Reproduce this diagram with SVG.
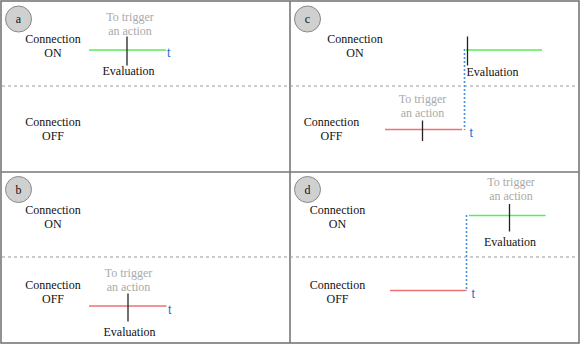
<svg xmlns="http://www.w3.org/2000/svg" width="581" height="345" viewBox="0 0 581 345">
<style>
text{font-family:"Liberation Serif","Times New Roman",serif;font-size:12px;fill:#111;text-anchor:middle}
.g{fill:#aaaaaa}
.t{fill:#1a6fd6;font-family:"Liberation Sans",Arial,sans-serif;text-anchor:start}
.frame{fill:none;stroke:#777;stroke-width:1.6}
.sep{stroke:#999;stroke-width:1;stroke-dasharray:3,3}
.circ{fill:#d0d0d0;stroke:#888;stroke-width:1}
.on{stroke:#55ee55;stroke-width:1.6}
.off{stroke:#f07070;stroke-width:1.6}
.tick{stroke:#222;stroke-width:1.3}
.jump{stroke:#4a8fe0;stroke-width:1.6;stroke-dasharray:2,2}
</style>
<rect x="0" y="0" width="581" height="345" fill="#fff"/>
<g id="frame">
<rect class="frame" x="1" y="1" width="578" height="342"/>
<line class="frame" x1="290" y1="1" x2="290" y2="343"/>
<line class="frame" x1="1" y1="172" x2="579" y2="172"/>
<line class="sep" x1="2" y1="86" x2="578" y2="86"/>
<line class="sep" x1="2" y1="257" x2="578" y2="257"/>
</g>
<g id="panel-a">
<circle class="circ" cx="18.5" cy="19" r="13"/>
<text x="18.5" y="23">a</text>
<text x="53" y="42.5">Connection</text>
<text x="53" y="56.5">ON</text>
<text x="53" y="126">Connection</text>
<text x="53" y="140">OFF</text>
<text class="g" x="130" y="20.5">To trigger</text>
<text class="g" x="130" y="34.5">an action</text>
<line class="on" x1="89" y1="50" x2="166" y2="50"/>
<line class="tick" x1="127" y1="36.5" x2="127" y2="65.5"/>
<text class="t" x="167" y="57">t</text>
<text x="128.5" y="74.5">Evaluation</text>
</g>
<g id="panel-c">
<circle class="circ" cx="307.5" cy="19" r="13"/>
<text x="307.5" y="23">c</text>
<text x="355" y="42.5">Connection</text>
<text x="355" y="56.5">ON</text>
<text x="331.5" y="126">Connection</text>
<text x="331.5" y="140">OFF</text>
<text class="g" x="422.5" y="102.5">To trigger</text>
<text class="g" x="422.5" y="116.5">an action</text>
<line class="off" x1="385" y1="129.5" x2="462" y2="129.5"/>
<line class="tick" x1="422.5" y1="120.5" x2="422.5" y2="141"/>
<line class="jump" x1="464.5" y1="49" x2="464.5" y2="130"/>
<line class="on" x1="466" y1="50" x2="542" y2="50"/>
<line class="tick" x1="467.5" y1="36.5" x2="467.5" y2="65.5"/>
<text x="492.5" y="76">Evaluation</text>
<text class="t" x="469.5" y="137">t</text>
</g>
<g id="panel-b">
<circle class="circ" cx="18.5" cy="189.5" r="13"/>
<text x="18.5" y="193.5">b</text>
<text x="53" y="213.5">Connection</text>
<text x="53" y="227.5">ON</text>
<text x="53" y="288.5">Connection</text>
<text x="53" y="302.5">OFF</text>
<text class="g" x="128.5" y="276.5">To trigger</text>
<text class="g" x="128.5" y="290.5">an action</text>
<line class="off" x1="89" y1="306" x2="166.5" y2="306"/>
<line class="tick" x1="128" y1="293.5" x2="128" y2="321.5"/>
<text class="t" x="168" y="314">t</text>
<text x="129.5" y="336">Evaluation</text>
</g>
<g id="panel-d">
<circle class="circ" cx="307.5" cy="189.5" r="13"/>
<text x="307.5" y="193.5">d</text>
<text x="337.5" y="213.5">Connection</text>
<text x="337.5" y="227.5">ON</text>
<text x="337.5" y="288.5">Connection</text>
<text x="337.5" y="302.5">OFF</text>
<text class="g" x="511" y="186">To trigger</text>
<text class="g" x="511" y="200">an action</text>
<line class="on" x1="469" y1="215.5" x2="545.5" y2="215.5"/>
<line class="tick" x1="509.5" y1="204" x2="509.5" y2="231.5"/>
<text x="510" y="245.5">Evaluation</text>
<line class="jump" x1="466.5" y1="215" x2="466.5" y2="290"/>
<line class="off" x1="390" y1="290.5" x2="466.5" y2="290.5"/>
<text class="t" x="471.5" y="298">t</text>
</g>
</svg>
